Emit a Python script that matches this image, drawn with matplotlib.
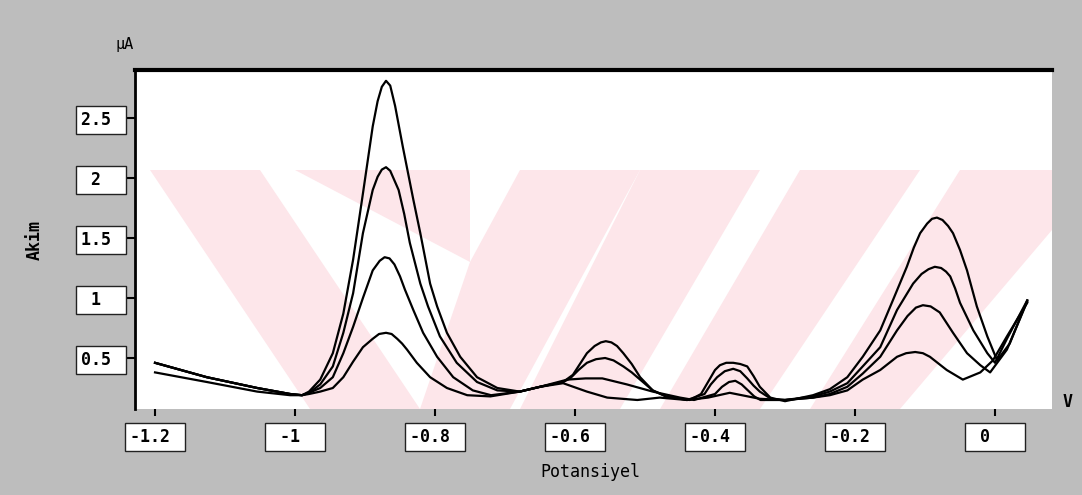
import numpy as np
import matplotlib
matplotlib.use("Agg")
import matplotlib.pyplot as plt
from matplotlib.patches import Polygon

# potential (V) and current (uA), one pair per curve
v1 = [-1.200, -1.126, -1.054, -1.007, -0.990, -0.980, -0.964, -0.946, -0.931, -0.917,
      -0.903, -0.889, -0.882, -0.876, -0.870, -0.864, -0.857, -0.846, -0.831, -0.821,
      -0.807, -0.797, -0.783, -0.764, -0.740, -0.711, -0.679, -0.650, -0.617, -0.603,
      -0.593, -0.583, -0.572, -0.563, -0.556, -0.548, -0.540, -0.531, -0.519, -0.507,
      -0.489, -0.470, -0.436, -0.420, -0.413, -0.407, -0.400, -0.393, -0.384, -0.374,
      -0.364, -0.354, -0.345, -0.336, -0.321, -0.300, -0.260, -0.236, -0.211, -0.189,
      -0.164, -0.146, -0.126, -0.116, -0.107, -0.097, -0.090, -0.083, -0.075, -0.067,
      -0.060, -0.050, -0.040, -0.026, -0.011, 0.003, 0.021, 0.046]
i1 = [0.46, 0.34, 0.25, 0.20, 0.19, 0.22, 0.32, 0.54, 0.87, 1.32,
      1.87, 2.43, 2.64, 2.76, 2.81, 2.77, 2.60, 2.26, 1.82, 1.54,
      1.12, 0.93, 0.71, 0.51, 0.34, 0.25, 0.22, 0.26, 0.30, 0.36,
      0.45, 0.54, 0.60, 0.63, 0.64, 0.63, 0.60, 0.54, 0.45, 0.34,
      0.23, 0.18, 0.15, 0.20, 0.27, 0.33, 0.40, 0.44, 0.46, 0.46,
      0.45, 0.43, 0.35, 0.26, 0.17, 0.14, 0.19, 0.24, 0.34, 0.51,
      0.73, 0.98, 1.26, 1.42, 1.54, 1.62, 1.66, 1.67, 1.65, 1.60,
      1.54, 1.40, 1.23, 0.93, 0.68, 0.48, 0.62, 0.98]

v2 = [-1.200, -1.126, -1.054, -1.007, -0.990, -0.980, -0.964, -0.946, -0.931, -0.917,
      -0.903, -0.889, -0.882, -0.876, -0.870, -0.864, -0.858, -0.852, -0.844, -0.836,
      -0.821, -0.810, -0.793, -0.769, -0.740, -0.711, -0.679, -0.650, -0.617, -0.607,
      -0.595, -0.583, -0.570, -0.557, -0.545, -0.531, -0.519, -0.507, -0.489, -0.470,
      -0.440, -0.415, -0.406, -0.397, -0.386, -0.374, -0.364, -0.354, -0.345, -0.336,
      -0.320, -0.300, -0.260, -0.236, -0.211, -0.189, -0.164, -0.140, -0.117, -0.105,
      -0.095, -0.086, -0.077, -0.070, -0.064, -0.057, -0.050, -0.031, -0.011, 0.000,
      0.017, 0.046]
i2 = [0.46, 0.34, 0.25, 0.20, 0.19, 0.21, 0.28, 0.43, 0.71, 1.04,
      1.54, 1.90, 2.01, 2.07, 2.09, 2.06, 1.98, 1.90, 1.70, 1.46,
      1.12, 0.93, 0.68, 0.46, 0.30, 0.23, 0.22, 0.26, 0.30, 0.33,
      0.40, 0.46, 0.49, 0.50, 0.48, 0.43, 0.38, 0.32, 0.23, 0.18,
      0.15, 0.20, 0.28, 0.34, 0.39, 0.41, 0.39, 0.33, 0.27, 0.22,
      0.16, 0.15, 0.18, 0.22, 0.29, 0.43, 0.59, 0.90, 1.12, 1.20,
      1.24, 1.26, 1.25, 1.22, 1.18, 1.08, 0.96, 0.73, 0.54, 0.46,
      0.66, 0.98]

v3 = [-1.200, -1.126, -1.054, -1.007, -0.990, -0.980, -0.964, -0.946, -0.931, -0.917,
      -0.903, -0.889, -0.879, -0.872, -0.865, -0.858, -0.850, -0.843, -0.831, -0.817,
      -0.797, -0.774, -0.746, -0.720, -0.679, -0.650, -0.611, -0.585, -0.561, -0.526,
      -0.489, -0.450, -0.430, -0.400, -0.390, -0.380, -0.371, -0.362, -0.353, -0.344,
      -0.335, -0.300, -0.260, -0.236, -0.211, -0.189, -0.164, -0.140, -0.125, -0.113,
      -0.103, -0.092, -0.079, -0.060, -0.040, -0.021, -0.007, 0.017, 0.046]
i3 = [0.46, 0.34, 0.25, 0.20, 0.19, 0.21, 0.25, 0.34, 0.54, 0.76,
      1.00, 1.23, 1.31, 1.34, 1.33, 1.28, 1.18, 1.07, 0.90, 0.71,
      0.51, 0.34, 0.23, 0.19, 0.22, 0.26, 0.32, 0.33, 0.33, 0.28,
      0.22, 0.17, 0.15, 0.20, 0.26, 0.30, 0.31, 0.28, 0.23, 0.18,
      0.15, 0.15, 0.17, 0.20, 0.26, 0.37, 0.51, 0.73, 0.85, 0.92,
      0.94, 0.93, 0.88, 0.71, 0.54, 0.44, 0.38, 0.57, 0.97]

v4 = [-1.200, -1.126, -1.054, -1.007, -0.990, -0.980, -0.964, -0.946, -0.931, -0.917,
      -0.903, -0.889, -0.880, -0.870, -0.862, -0.854, -0.847, -0.840, -0.826, -0.807,
      -0.783, -0.754, -0.721, -0.679, -0.650, -0.617, -0.583, -0.554, -0.511, -0.479,
      -0.440, -0.410, -0.379, -0.336, -0.300, -0.260, -0.236, -0.211, -0.189, -0.164,
      -0.140, -0.127, -0.114, -0.103, -0.093, -0.069, -0.046, -0.021, -0.003, 0.017,
      0.046]
i4 = [0.38, 0.30, 0.22, 0.19, 0.19, 0.20, 0.22, 0.25, 0.34, 0.47,
      0.59, 0.66, 0.70, 0.71, 0.70, 0.66, 0.62, 0.57, 0.46, 0.34,
      0.25, 0.19, 0.18, 0.22, 0.26, 0.29, 0.22, 0.17, 0.15, 0.17,
      0.15, 0.17, 0.21, 0.16, 0.15, 0.17, 0.19, 0.23, 0.32, 0.40,
      0.51, 0.54, 0.55, 0.54, 0.51, 0.40, 0.32, 0.38, 0.48, 0.68,
      0.96]

xticks = [-1.2, -1.0, -0.8, -0.6, -0.4, -0.2, 0.0]
xtick_labels = ["-1.2 ", " -1  ", "-0.8 ", "-0.6 ", "-0.4 ", "-0.2 ", " 0   "]
yticks = [0.5, 1.0, 1.5, 2.0, 2.5]
ytick_labels = ["0.5 ", " 1  ", "1.5 ", " 2  ", "2.5 "]

W, H = 1082, 495
bg = "#bdbdbd"
mono = "DejaVu Sans Mono"

fig = plt.figure(figsize=(W / 100, H / 100), dpi=100, facecolor=bg)
# plot area in image pixels: x 135..1052, y 70..409
ax = fig.add_axes([135 / W, 1 - 409 / H, (1052 - 135) / W, (409 - 70) / H])
ax.set_facecolor("white")

# faint pink watermark of the scan (image pixel coords)
wm = [
    [(150, 170), (260, 170), (420, 409), (310, 409)],
    [(295, 170), (470, 170), (470, 262)],
    [(470, 262), (520, 170), (640, 170), (510, 409), (420, 409)],
    [(640, 170), (760, 170), (620, 409), (520, 409)],
    [(800, 170), (920, 170), (760, 409), (660, 409)],
    [(960, 170), (1052, 170), (1052, 230), (900, 409), (810, 409)],
]
for poly in wm:
    pts = [(x / W, 1 - y / H) for x, y in poly]
    ax.add_patch(Polygon(pts, closed=True, transform=fig.transFigure,
                         facecolor="#fde6ea", edgecolor="none", zorder=0))

for v, cur in [(v4, i4), (v3, i3), (v2, i2), (v1, i1)]:
    ax.plot(v, cur, color="black", lw=1.6, zorder=3, solid_joinstyle="round")

ax.set_xlim(-1.2286, 0.0814)
ax.set_ylim(0.075, 2.9)

for side in ["right", "bottom"]:
    ax.spines[side].set_visible(False)
ax.spines["left"].set_linewidth(2.0)
ax.spines["top"].set_linewidth(3.0)

ax.set_xticks(xticks)
ax.set_xticklabels(xtick_labels)
ax.set_yticks(yticks)
ax.set_yticklabels(ytick_labels)
ax.tick_params(axis="x", direction="out", length=5, width=1.5, pad=9,
               labelsize=12, colors="black")
ax.tick_params(axis="y", direction="out", length=7, width=1.5, pad=3,
               labelsize=12, colors="black")
box = dict(boxstyle="square,pad=0.3", facecolor="white", edgecolor="#222222", lw=1.0)
for lbl in ax.get_xticklabels() + ax.get_yticklabels():
    lbl.set_fontfamily(mono)
    lbl.set_fontweight("bold")
    lbl.set_bbox(box)

fig.text(125 / W, 1 - 45 / H, "µA", family=mono, fontsize=11, ha="center", va="center")
fig.text(35 / W, 1 - 240 / H, "Akim", family=mono, fontsize=12, fontweight="bold",
         rotation=90, ha="center", va="center")
fig.text(590 / W, 1 - 472 / H, "Potansiyel", family=mono, fontsize=12,
         ha="center", va="center")
fig.text(1068 / W, 1 - 402 / H, "V", family=mono, fontsize=12, fontweight="bold",
         ha="center", va="center")

fig.savefig("out.png", dpi=100, facecolor=bg)
